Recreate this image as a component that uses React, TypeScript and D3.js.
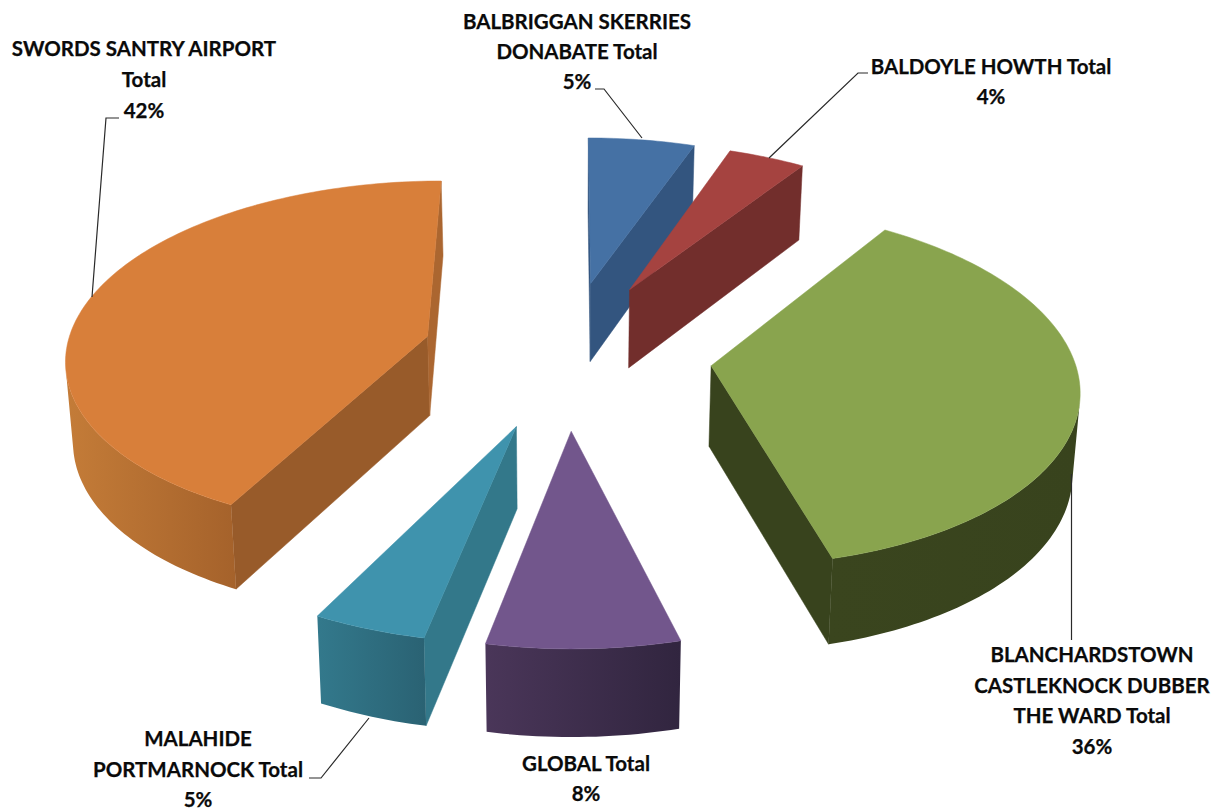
import React from "react";
import * as d3 from "d3";

const sliceNames = [
  "BALBRIGGAN SKERRIES DONABATE Total",
  "BALDOYLE HOWTH Total",
  "BLANCHARDSTOWN CASTLEKNOCK DUBBER THE WARD Total",
  "GLOBAL Total",
  "MALAHIDE PORTMARNOCK Total",
  "SWORDS SANTRY AIRPORT Total",
];
// Printed percentages
const percentLabels = [5, 4, 36, 8, 5, 42];
// Shares (the 3D view distorts the printed figures)
const sliceShares = [5.44, 3.94, 36.5, 7.36, 4.36, 42.4];
const topColors = ["#4571a4", "#a54340", "#89a44e", "#72568c", "#3f93ad", "#d87f3a"];
const radialColors = ["#33557f", "#722e2c", "#38431d", "#4a3659", "#33788a", "#985b2a"];
const endWallColors = ["#33557f", "#722e2c", "#38431d", "#4a3659", "#33788a", "#ab6630"];
const outerLeft = ["#33557f", "#722e2c", "#3a451e", "#4a3659", "#33798c", "#c47c38"];
const outerRight = ["#33557f", "#722e2c", "#38431d", "#31253f", "#2a6273", "#a5622b"];

const labelLines = [
  ["BALBRIGGAN SKERRIES", "DONABATE Total"],
  ["BALDOYLE HOWTH Total"],
  ["BLANCHARDSTOWN", "CASTLEKNOCK DUBBER", "THE WARD Total"],
  ["GLOBAL Total"],
  ["MALAHIDE", "PORTMARNOCK Total"],
  ["SWORDS SANTRY AIRPORT", "Total"],
];
const labelAnchors: [number, number, number][] = [
  [577, 29, 30],
  [991, 74, 30],
  [1092, 662, 30.7],
  [586, 771, 30],
  [198, 746, 30.5],
  [144, 56, 31],
];
const leaders: [number, number][][] = [
  [[642, 138], [604, 89], [595, 89]],
  [[769, 158], [858, 73], [868, 73]],
  [[1071.5, 474], [1071.5, 640]],
  [],
  [[369, 718], [321, 778], [309, 778]],
  [[92, 297], [106, 118], [119, 118]],
];

const CX = 567;
const CY = 353.5;
const RADIUS = 362;
const EXPLODE_U = 145;
const EXPLODE_V = 153;
const TILT = 0.485;
const PERSP = 0.0003;
const DEPTH = 80;
const DEPTH_PERSP = 0.00018;
const BASE_SHRINK = 0.985;

type P = [number, number];
const project = (u: number, v: number, bottom = false): P => {
  const s = 1 / (1 - PERSP * v);
  const drop = bottom ? DEPTH / (1 - DEPTH_PERSP * v) : 0;
  return [CX + u * s * (bottom ? BASE_SHRINK : 1), CY + TILT * v * s + drop];
};
const area = (pts: P[]) => {
  let sum = 0;
  pts.forEach((p, i) => {
    const q = pts[(i + 1) % pts.length];
    sum += p[0] * q[1] - q[0] * p[1];
  });
  return sum;
};
const line = d3.line<P>().x((d) => d[0]).y((d) => d[1]);
const closed = (pts: P[]) => (line(pts) ?? "") + "Z";

const arcs = d3.pie<number>().sort(null).value((d) => d).startAngle(0).endAngle(2 * Math.PI)(sliceShares);

function Slice({ index }: { index: number }) {
  const a = arcs[index];
  const mid = (a.startAngle + a.endAngle) / 2;
  const au = EXPLODE_U * Math.sin(mid);
  const av = -EXPLODE_V * Math.cos(mid);
  const steps = Math.max(6, Math.round((a.endAngle - a.startAngle) / 0.02));
  const angle = d3.scaleLinear().domain([0, steps]).range([a.startAngle, a.endAngle]);
  const ground = d3.range(steps + 1).map((i) => {
    const t = angle(i);
    return [au + RADIUS * Math.sin(t), av - RADIUS * Math.cos(t)] as P;
  });
  const apexTop = project(au, av);
  const apexBot = project(au, av, true);
  const top = ground.map((g) => project(g[0], g[1]));
  const bot = ground.map((g) => project(g[0], g[1], true));

  const startQuad: P[] = [apexTop, top[0], bot[0], apexBot];
  const endQuad: P[] = [apexTop, top[steps], bot[steps], apexBot];
  const visible = d3.range(steps).filter((i) => area([top[i], top[i + 1], bot[i + 1], bot[i]]) < 0);
  let wall: P[] = [];
  if (visible.length) {
    const first = visible[0];
    const last = visible[visible.length - 1] + 1;
    wall = [...top.slice(first, last + 1), ...bot.slice(first, last + 1).reverse()];
  }
  const xs = wall.map((p) => p[0]);
  const gradId = `outer-${index}`;
  return (
    <g>
      {area(startQuad) < 0 && <path d={closed(startQuad)} fill={radialColors[index]} stroke={radialColors[index]} strokeWidth={0.5} />}
      {area(endQuad) > 0 && <path d={closed(endQuad)} fill={endWallColors[index]} stroke={endWallColors[index]} strokeWidth={0.5} />}
      {wall.length > 0 && (
        <>
          <defs>
            <linearGradient id={gradId} gradientUnits="userSpaceOnUse" x1={d3.min(xs)} x2={d3.max(xs)} y1={0} y2={0}>
              <stop offset="0" stopColor={outerLeft[index]} />
              <stop offset="1" stopColor={outerRight[index]} />
            </linearGradient>
          </defs>
          <path d={closed(wall)} fill={`url(#${gradId})`} />
        </>
      )}
      <path d={closed([apexTop, ...top])} fill={topColors[index]} stroke={topColors[index]} strokeWidth={0.5} />
    </g>
  );
}

export default function App() {
  return (
    <svg
      width={1224}
      height={812}
      viewBox="0 0 1224 812"
      style={{ position: "absolute", left: 0, top: 0, display: "block", background: "#fff" }}
      role="img"
      aria-label={sliceNames.join(", ")}
    >
      {sliceShares.map((_, i) => (
        <Slice key={i} index={i} />
      ))}
      {leaders.map((pts, i) =>
        pts.length ? <path key={i} d={line(pts) ?? ""} fill="none" stroke="#2a2a2a" strokeWidth={1.2} /> : null
      )}
      {labelLines.map((lines, i) => (
        <text key={i} textAnchor="middle" fontFamily="Lato, 'Open Sans', sans-serif" fontWeight={700} fontSize={20.5} fill="#0a0a0a" stroke="#0a0a0a" strokeWidth={0.25}>
          {[...lines, `${percentLabels[i]}%`].map((t, j) => (
            <tspan key={j} x={labelAnchors[i][0]} y={labelAnchors[i][1] + j * labelAnchors[i][2]}>
              {t}
            </tspan>
          ))}
        </text>
      ))}
    </svg>
  );
}
